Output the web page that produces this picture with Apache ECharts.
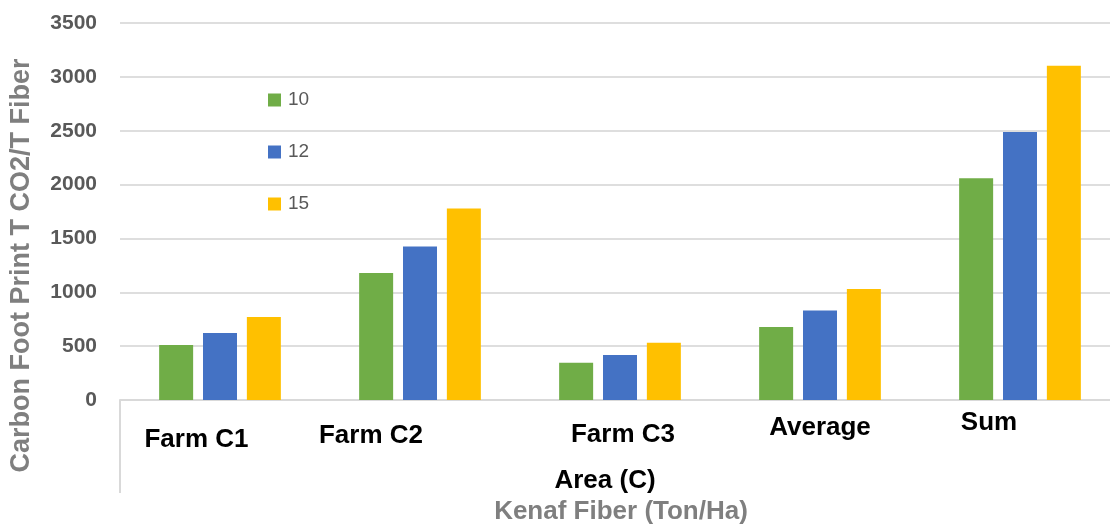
<!DOCTYPE html>
<html>
<head>
<meta charset="utf-8">
<script src="https://cdn.jsdelivr.net/npm/echarts@6/dist/echarts.min.js"></script>
<style>
  html, body { margin: 0; padding: 0; background: #fff; }
  #chart { width: 1110px; height: 527px; }
</style>
</head>
<body>
<div id="chart"></div>
<script>
// Carbon footprint per tonne of kenaf fiber, by farm area and yield level
const categories = ['Farm C1', 'Farm C2', 'Farm C3', 'Average', 'Sum'];
const seriesNames = ['10', '12', '15'];
const yield10 = [510, 1180, 346, 677, 2058];
const yield12 = [621, 1425, 417, 830, 2488];
const yield15 = [770, 1779, 532, 1031, 3102];
const yTicks = { min: 0, max: 3500, interval: 500 };

const colors = ['#70AD47', '#4472C4', '#FFC000'];
const FONT = '"Liberation Sans", Arial, sans-serif';

// Per-category nudges for the category labels (padding: top, right, bottom, left)
const labelPads = [
  [34, 47, 0, 0],
  [26, 98, 0, 0],
  [23, 0, 0, 6],
  [9, 0, 0, 0],
  [0, 62, 0, 0]
];
const rich = {};
labelPads.forEach((p, i) => {
  rich['c' + i] = {
    fontSize: 26, fontWeight: 'bold', color: '#000', fontFamily: FONT,
    lineHeight: 26, padding: p
  };
});

const chart = echarts.init(document.getElementById('chart'));
chart.setOption({
  animation: false,
  backgroundColor: '#fff',
  textStyle: { fontFamily: FONT },
  title: {
    text: 'Kenaf Fiber (Ton/Ha)',
    left: 621, top: 499, textAlign: 'center', padding: 0,
    textStyle: { fontSize: 26, fontWeight: 'bold', color: '#7f7f7f', fontFamily: FONT, lineHeight: 26 }
  },
  legend: {
    data: seriesNames,
    orient: 'vertical',
    left: 263, top: 85,
    itemWidth: 13, itemHeight: 13, itemGap: 32,
    selectedMode: false,
    icon: 'rect',
    textStyle: { fontSize: 19, color: '#595959', fontFamily: FONT, lineHeight: 20, padding: [0, 0, 0, 2] }
  },
  grid: { left: 120, right: -10, top: 23, bottom: 127, containLabel: false, outerBoundsMode: 'none' },
  xAxis: {
    type: 'category',
    data: categories,
    name: 'Area (C)',
    nameLocation: 'middle',
    nameGap: 68,
    nameTextStyle: { fontSize: 26, fontWeight: 'bold', color: '#000', fontFamily: FONT, lineHeight: 26, padding: [0, 30, 0, 0] },
    axisLine: { lineStyle: { color: '#d9d9d9', width: 2 } },
    axisTick: {
      show: true, length: 93, inside: false,
      interval: function (i) { return i === 0; },
      lineStyle: { color: '#d9d9d9', width: 2 }
    },
    axisLabel: {
      interval: 0, margin: 10,
      formatter: function (v, i) { return '{c' + i + '|' + v + '}'; },
      rich: rich
    }
  },
  yAxis: {
    type: 'value',
    min: yTicks.min, max: yTicks.max, interval: yTicks.interval,
    name: 'Carbon Foot Print T CO2/T Fiber',
    nameLocation: 'middle',
    nameGap: 85,
    nameTextStyle: { fontSize: 27, fontWeight: 'bold', color: '#7f7f7f', fontFamily: FONT, lineHeight: 27, padding: [0, 108, 0, 0] },
    axisLine: { show: false },
    axisTick: { show: false },
    axisLabel: {
      fontSize: 21, fontWeight: 'bold', color: '#595959', margin: 23, fontFamily: FONT,
      formatter: function (v) { return String(v); }
    },
    splitLine: { lineStyle: { color: '#dedede', width: 2 } }
  },
  series: [yield10, yield12, yield15].map((d, i) => ({
    name: seriesNames[i],
    type: 'bar',
    data: d,
    barWidth: 34,
    barGap: '29%',
    itemStyle: { color: colors[i] }
  }))
});
</script>
</body>
</html>
